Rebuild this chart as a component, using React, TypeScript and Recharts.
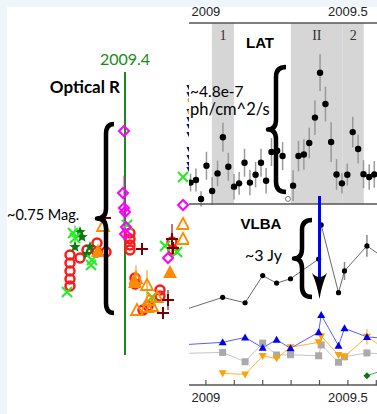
import React from "react";
import {
  ScatterChart,
  Scatter,
  ComposedChart,
  Line,
  XAxis,
  YAxis,
  ReferenceLine,
  ReferenceArea,
  ErrorBar,
} from "recharts";

// ---- Optical R (zoom around 2009.4), magnitudes ----
const redDates = [2009.3725, 2009.3725, 2009.3725, 2009.3725, 2009.3725, 2009.3775, 2009.381, 2009.386, 2009.386, 2009.3905, 2009.4025, 2009.4025, 2009.4025, 2009.4025, 2009.4235, 2009.424, 2009.405, 2009.405, 2009.4175, 2009.4175, 2009.4115, 2009.409];
const redMags = [15.232, 15.264, 15.296, 15.328, 15.356, 15.244, 15.212, 15.184, 15.22, 15.22, 15.144, 15.168, 15.192, 15.212, 15.18, 15.212, 15.324, 15.348, 15.372, 15.396, 15.436, 15.452];

const crossDates = [2009.375, 2009.383, 2009.42, 2009.426, 2009.401, 2009.4135, 2009.371, 2009.374, 2009.3835, 2009.429];
const crossMags = [15.164, 15.272, 15.196, 15.22, 15.112, 15.4, 15.38, 15.144, 15.252, 14.92];
const crossErr = [0.05, 0, 0, 0, 0, 0, 0, 0, 0, 0];

const starDates = [2009.3785, 2009.375, 2009.381, 2009.3775, 2009.3825];
const starMags = [15.16, 15.2, 15.228, 15.14, 15.2];

const triDates = [2009.389, 2009.429, 2009.429, 2009.4055, 2009.411, 2009.406, 2009.412, 2009.416, 2009.411, 2009.4135];
const triMags = [15.116, 15.108, 15.168, 15.324, 15.352, 15.452, 15.412, 15.4, 15.44, 15.436];
const triErr = [0, 0, 0, 0.05, 0.06, 0, 0, 0, 0, 0];

const triFillDates = [2009.3865, 2009.4225, 2009.405];
const triFillMags = [15.216, 15.3, 15.34];

const plusDates = [2009.39, 2009.4085, 2009.4235, 2009.424, 2009.4215, 2009.419];
const plusMags = [15.084, 15.208, 15.168, 15.204, 15.412, 15.464];
const plusErr = [0, 0.02, 0.06, 0, 0.04, 0];

const diamondDates = [2009.3995, 2009.399, 2009.3995, 2009.4, 2009.4005, 2009.4, 2009.429, 2009.4215];
const diamondMags = [14.736, 14.984, 15.044, 15.06, 15.12, 15.148, 15.032, 15.244];
const diamondErr = [0, 0, 0.13, 0, 0, 0, 0, 0];

// points of the next (hidden) panel that peek out at the right edge
const edgeNavyDates = [2009.4322, 2009.4322, 2009.4322, 2009.4322, 2009.4322, 2009.4322, 2009.4322, 2009.4322, 2009.4322, 2009.4322];
const edgeNavyMags = [14.564, 14.592, 14.66, 14.692, 14.72, 14.752, 14.812, 14.844, 14.872, 14.892];
const edgeOrangeDates = [2009.4322, 2009.4322];
const edgeOrangeMags = [14.612, 14.66];

// ---- LAT weekly flux, 1e-7 ph/cm^2/s ----
const latDates = [2008.946, 2008.965, 2008.983, 2009.002, 2009.022, 2009.041, 2009.06, 2009.079, 2009.099, 2009.117, 2009.136, 2009.155, 2009.175, 2009.194, 2009.212, 2009.231, 2009.251, 2009.27, 2009.307, 2009.326, 2009.345, 2009.364, 2009.384, 2009.402, 2009.421, 2009.441, 2009.46, 2009.479, 2009.498, 2009.517, 2009.536, 2009.555, 2009.575, 2009.593];
const latFlux = [0.84, 0.94, 0.2, 1.5, 0.51, 1.2, 2.62, 1.46, 0.68, 0.81, 1.62, 0.84, 1.15, 1.62, 0.91, 2.04, 2.09, 1.88, 0.72, 1.88, 1.94, 2.39, 3.39, 5.15, 3.92, 2.43, 1.16, 0.81, 1.15, 2.82, 2.16, 1.17, 1.06, 1.16];
const latErr = [0.35, 0.45, 0.3, 0.55, 0.55, 0.5, 0.57, 0.55, 0.5, 0.45, 0.55, 0.5, 0.5, 0.55, 0.5, 0.55, 0.55, 0.55, 0.6, 0.6, 0.6, 0.6, 0.68, 0.72, 0.68, 0.78, 0.6, 0.4, 0.43, 0.6, 0.57, 0.55, 0.5, 0.52];
const latLimitDates = [2009.289];
const latLimitFlux = [0.2];

const bands = [
  { label: "1", from: 2009.021, to: 2009.0986 },
  { label: "II", from: 2009.299, to: 2009.482 },
  { label: "2", from: 2009.482, to: 2009.556 },
];

// ---- VLBA, Jy ----
const vlbaDates = [2008.88, 2009.059, 2009.138, 2009.2, 2009.249, 2009.298, 2009.397, 2009.406, 2009.467, 2009.488, 2009.567, 2009.65];
const coreFlux = [2.75, 3.39, 3.18, 4.23, 3.94, 4.11, 4.87, 6.19, 3.57, 4.41, 5.38, 4.74];
const coreErr = [0, 0, 0, 0, 0, 0, 0, 0, 0, 0.35, 0.42, 0];
const blueFlux = [1.53, 1.65, 1.84, 1.44, 1.75, 1.42, 2.04, 2.71, 1.52, 2.19, 1.86, 1.79];
const grayFlux = [1.21, 1.26, 0.9, 1.62, 1.16, 1.17, 1.13, 1.55, 0.88, 1.09, 1.24, 1.18];
const orangeFlux = [null, 0.45, 0.41, 1.12, 1.03, 1.46, 1.65, 1.89, 1.16, 1.09, 1.87, 1.26];
const orangeErr = [0, 0, 0, 0, 0, 0, 0, 0, 0, 0, 0.3, 0];
const greenFlux = [null, null, null, null, null, null, null, null, null, null, 0.36, 0.66];

const yearTicks = [2009, 2009.1, 2009.2, 2009.3, 2009.4, 2009.5, 2009.6];
const markedYear = 2009.4;

const rightDomain: [number, number] = [2008.9405, 2009.6025];
const RIGHT_LEFT = 189;
const RIGHT_PX_PER_YEAR = 284;
const rightX = (yr: number) => RIGHT_LEFT + (yr - rightDomain[0]) * RIGHT_PX_PER_YEAR;

const pts = (xs: number[], ys: number[], errs?: number[]) =>
  xs.map((x, i) => ({ x, y: ys[i], err: errs ? errs[i] : 0 }));

const latData = pts(latDates, latFlux, latErr);
const latLimitData = pts(latLimitDates, latLimitFlux);
const vlbaData = vlbaDates.map((x, i) => ({
  x,
  core: coreFlux[i],
  coreErr: coreErr[i],
  blue: blueFlux[i],
  gray: grayFlux[i],
  orange: orangeFlux[i],
  orangeErr: orangeErr[i],
  green: greenFlux[i],
}));

const yearLabel = (v: number) =>
  Math.abs(v - 2009) < 1e-6 ? "2009" : Math.abs(v - 2009.5) < 1e-6 ? "2009.5" : "";

const sans = "'Liberation Sans', Arial, sans-serif";
const annot = "Lato, 'Open Sans', sans-serif";

// marker shapes
const openCircle = (p: any) => (
  <circle cx={p.cx} cy={p.cy} r={4.5} fill="none" stroke="#ff1a1a" strokeWidth={2.5} />
);
const xCross = (p: any) => (
  <path d={`M${p.cx - 5},${p.cy - 5}L${p.cx + 5},${p.cy + 5}M${p.cx - 5},${p.cy + 5}L${p.cx + 5},${p.cy - 5}`} stroke="#22ee22" strokeWidth={2} />
);
const starShape = (p: any) => {
  const d: string[] = [];
  for (let i = 0; i < 10; i++) {
    const r = i % 2 === 0 ? 6 : 2.6;
    const a = (Math.PI / 5) * i - Math.PI / 2;
    d.push(`${p.cx + r * Math.cos(a)},${p.cy + r * Math.sin(a)}`);
  }
  return <polygon points={d.join(" ")} fill="#0b7a0b" />;
};
const openTri = (p: any) => (
  <path d={`M${p.cx},${p.cy - 6}L${p.cx + 6},${p.cy + 5}L${p.cx - 6},${p.cy + 5}Z`} fill="none" stroke="#ff8c00" strokeWidth={1.8} />
);
const fillTri = (p: any) => (
  <path d={`M${p.cx},${p.cy - 7}L${p.cx + 7},${p.cy + 6}L${p.cx - 7},${p.cy + 6}Z`} fill="#ff8c00" />
);
const plusShape = (p: any) => (
  <path d={`M${p.cx - 6},${p.cy}L${p.cx + 6},${p.cy}M${p.cx},${p.cy - 6}L${p.cx},${p.cy + 6}`} stroke="#7a0000" strokeWidth={2} />
);
const openDiamond = (p: any) => (
  <path d={`M${p.cx},${p.cy - 5}L${p.cx + 5},${p.cy}L${p.cx},${p.cy + 5}L${p.cx - 5},${p.cy}Z`} fill="none" stroke="#ff00ff" strokeWidth={2} />
);
const navyTri = (p: any) => (
  <path d={`M${p.cx - 3},${p.cy - 3}L${p.cx + 3},${p.cy - 3}L${p.cx},${p.cy + 3}Z`} fill="#10106e" />
);
const edgeOrange = (p: any) => <circle cx={p.cx} cy={p.cy} r={2} fill="#ff9a30" />;
const blackDot = (p: any) => <circle cx={p.cx} cy={p.cy} r={3.2} fill="#000" />;
const smallOpen = (p: any) => <circle cx={p.cx} cy={p.cy} r={2.5} fill="#fff" stroke="#777" strokeWidth={1} />;

const safe = (p: any, el: (cx: number, cy: number) => React.ReactElement) =>
  p.cx == null || p.cy == null || p.value == null ? <g key={p.index} /> : <g key={p.index}>{el(p.cx, p.cy)}</g>;

const coreDot = (p: any) => safe(p, (cx, cy) => <circle cx={cx} cy={cy} r={2.6} fill="#000" />);
const blueDot = (p: any) =>
  safe(p, (cx, cy) => <path d={`M${cx},${cy - 4}L${cx + 4},${cy + 3}L${cx - 4},${cy + 3}Z`} fill="#0000ee" />);
const grayDot = (p: any) => safe(p, (cx, cy) => <rect x={cx - 3.5} y={cy - 3.5} width={7} height={7} fill="#aaa" />);
const orangeDot = (p: any) =>
  safe(p, (cx, cy) => <path d={`M${cx - 4},${cy - 3}L${cx + 4},${cy - 3}L${cx},${cy + 4}Z`} fill="#ffa200" />);
const greenDot = (p: any) =>
  safe(p, (cx, cy) => <path d={`M${cx},${cy - 3.5}L${cx + 3.5},${cy}L${cx},${cy + 3.5}L${cx - 3.5},${cy}Z`} fill="#137313" />);

const OpticalChart = () => (
  <ScatterChart width={189} height={414} margin={{ top: 72, right: 0, bottom: 59, left: 7 }}>
    <XAxis type="number" dataKey="x" domain={[2009.341, 2009.432]} allowDataOverflow hide />
    <YAxis type="number" dataKey="y" domain={[14.5, 15.632]} reversed allowDataOverflow hide />
    <ReferenceLine
      x={markedYear}
      stroke="#1a8a1a"
      strokeWidth={2}
      label={{ value: "2009.4", position: "top", offset: 7, fill: "#1a8a1a", fontSize: 16, fontFamily: annot }}
    />
    <Scatter data={pts(edgeNavyDates, edgeNavyMags)} shape={navyTri} isAnimationActive={false} />
    <Scatter data={pts(edgeOrangeDates, edgeOrangeMags)} shape={edgeOrange} isAnimationActive={false} />
    <Scatter data={pts(redDates, redMags)} shape={openCircle} isAnimationActive={false} />
    <Scatter data={pts(starDates, starMags)} shape={starShape} isAnimationActive={false} />
    <Scatter data={pts(crossDates, crossMags, crossErr)} shape={xCross} isAnimationActive={false}>
      <ErrorBar dataKey="err" direction="y" width={0} stroke="#22cc22" strokeWidth={1} />
    </Scatter>
    <Scatter data={pts(triFillDates, triFillMags)} shape={fillTri} isAnimationActive={false} />
    <Scatter data={pts(triDates, triMags, triErr)} shape={openTri} isAnimationActive={false}>
      <ErrorBar dataKey="err" direction="y" width={0} stroke="#ff8c00" strokeWidth={1} />
    </Scatter>
    <Scatter data={pts(plusDates, plusMags, plusErr)} shape={plusShape} isAnimationActive={false}>
      <ErrorBar dataKey="err" direction="y" width={0} stroke="#9a5050" strokeWidth={1.5} />
    </Scatter>
    <Scatter data={pts(diamondDates, diamondMags, diamondErr)} shape={openDiamond} isAnimationActive={false}>
      <ErrorBar dataKey="err" direction="y" width={0} stroke="#ff00ff" strokeWidth={1} />
    </Scatter>
  </ScatterChart>
);

const LatChart = () => (
  <ComposedChart width={197} height={214} margin={{ top: 0, right: 0, bottom: 0, left: 9 }}>
    <XAxis
      xAxisId="top"
      orientation="top"
      type="number"
      dataKey="x"
      domain={rightDomain}
      allowDataOverflow
      ticks={yearTicks}
      interval={0}
      tickFormatter={yearLabel}
      height={23}
      tickSize={5}
      tickMargin={2}
      tickLine={false}
      axisLine={{ stroke: "#555", strokeWidth: 1.5 }}
      tick={{ fill: "#222", fontSize: 13, fontFamily: sans }}
    />
    <XAxis
      xAxisId="bottom"
      orientation="bottom"
      type="number"
      dataKey="x"
      domain={rightDomain}
      allowDataOverflow
      ticks={yearTicks}
      interval={0}
      height={10}
      tickSize={5}
      tick={false}
      tickLine={{ stroke: "#555", strokeWidth: 1.2 }}
      axisLine={{ stroke: "#555", strokeWidth: 1.5 }}
    />
    <YAxis type="number" dataKey="y" domain={[0, 7.1]} allowDataOverflow hide />
    {bands.map((b) => (
      <ReferenceArea
        key={b.label}
        xAxisId="bottom"
        x1={b.from}
        x2={b.to}
        fill="#d6d6d6"
        fillOpacity={1}
        label={{ value: b.label, position: "insideTop", offset: 7, fill: "#333", fontSize: 14, fontFamily: "'Liberation Serif', serif" }}
      />
    ))}
    <Scatter xAxisId="bottom" data={latData} dataKey="y" shape={blackDot} isAnimationActive={false}>
      <ErrorBar dataKey="err" direction="y" width={0} stroke="#999" strokeWidth={1.5} />
    </Scatter>
    <Scatter xAxisId="bottom" data={latLimitData} dataKey="y" shape={smallOpen} isAnimationActive={false} />
  </ComposedChart>
);

const VlbaChart = () => (
  <ComposedChart width={197} height={210} data={vlbaData} margin={{ top: 0, right: 0, bottom: 0, left: 9 }}>
    <XAxis
      type="number"
      dataKey="x"
      domain={rightDomain}
      allowDataOverflow
      ticks={yearTicks}
      interval={0}
      tickFormatter={yearLabel}
      height={29}
      tickSize={-5}
      tickMargin={13}
      tickLine={{ stroke: "#555", strokeWidth: 1.2 }}
      axisLine={{ stroke: "#555", strokeWidth: 1.5 }}
      tick={{ fill: "#222", fontSize: 13, fontFamily: sans }}
    />
    <YAxis type="number" domain={[0, 7]} allowDataOverflow hide />
    <Line dataKey="gray" stroke="#c4c4c4" strokeWidth={1} dot={grayDot} isAnimationActive={false} />
    <Line dataKey="orange" stroke="#ffb23a" strokeWidth={1} dot={orangeDot} isAnimationActive={false}>
      <ErrorBar dataKey="orangeErr" direction="y" width={0} stroke="#ffc060" strokeWidth={1.5} />
    </Line>
    <Line dataKey="blue" stroke="#4a4aff" strokeWidth={0.9} dot={blueDot} isAnimationActive={false} />
    <Line dataKey="green" stroke="#3a9a3a" strokeWidth={0.9} dot={greenDot} isAnimationActive={false} />
    <Line dataKey="core" stroke="#444" strokeWidth={0.8} dot={coreDot} isAnimationActive={false}>
      <ErrorBar dataKey="coreErr" direction="y" width={0} stroke="#888" strokeWidth={1.5} />
    </Line>
  </ComposedChart>
);

const bracePath = (xl: number, xm: number, xr: number, yt: number, yb: number) => {
  const ym = (yt + yb) / 2;
  const k = 10;
  return `M${xr},${yt} Q${xm},${yt} ${xm},${yt + k} L${xm},${ym - k} Q${xm},${ym} ${xl},${ym} Q${xm},${ym} ${xm},${ym + k} L${xm},${yb - k} Q${xm},${yb} ${xr},${yb}`;
};

const Annotations = () => {
  const ax = rightX(markedYear);
  return (
    <svg width={377} height={414} style={{ position: "absolute", left: 0, top: 0, pointerEvents: "none" }}>
      <g fill="none" stroke="#000" strokeWidth={4.5} strokeLinejoin="round">
        <path d={bracePath(97, 106, 114, 124, 313)} />
        <path d={bracePath(268, 276, 286, 67, 192)} />
        <path d={bracePath(294, 302, 312, 220, 297)} />
      </g>
      <line x1={ax} y1={196} x2={ax} y2={290} stroke="#0000ff" strokeWidth={3} />
      <path d={`M${ax - 7.5},273 Q${ax - 2.5},284 ${ax},299 Q${ax + 2.5},284 ${ax + 7.5},273 Q${ax},281 ${ax - 7.5},273 Z`} fill="#000" />
      <g fontFamily={annot} fill="#000">
        <text x={120} y={93} fontSize={17} fontWeight="bold" textAnchor="end">Optical R</text>
        <text x={7} y={220} fontSize={14.5}>~0.75 Mag.</text>
        <text x={260} y={48} fontSize={15} fontWeight="bold" textAnchor="middle" fontFamily={sans}>LAT</text>
        <text x={190} y={97} fontSize={15.5}>~4.8e-7</text>
        <text x={190} y={115} fontSize={16.5}>ph/cm^2/s</text>
        <text x={261} y={229} fontSize={15} fontWeight="bold" textAnchor="middle" fontFamily={sans}>VLBA</text>
        <text x={245} y={261} fontSize={16}>~3 Jy</text>
      </g>
    </svg>
  );
};

export default function App() {
  return (
    <div style={{ position: "fixed", left: 0, top: 0, width: 377, height: 414, background: "#eef6fc", overflow: "hidden" }}>
      <div style={{ position: "absolute", left: 7, top: 7, right: 0, bottom: 0, background: "#fff" }} />
      <div style={{ position: "absolute", left: 0, top: 0 }}>
        <OpticalChart />
      </div>
      <div style={{ position: "absolute", left: 180, top: 0 }}>
        <LatChart />
      </div>
      <div style={{ position: "absolute", left: 180, top: 204 }}>
        <VlbaChart />
      </div>
      <Annotations />
    </div>
  );
}
